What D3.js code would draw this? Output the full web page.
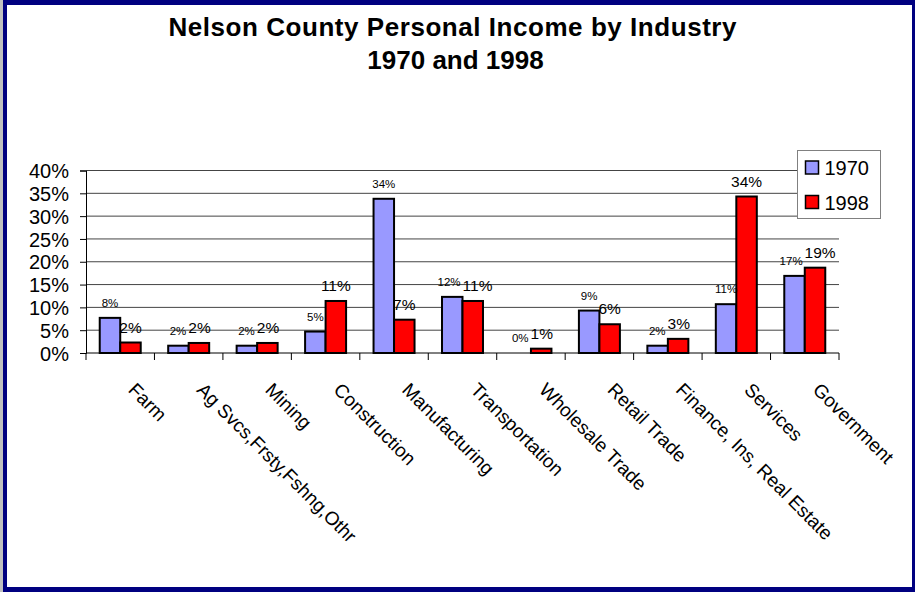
<!DOCTYPE html>
<html>
<head>
<meta charset="utf-8">
<script src="https://cdn.jsdelivr.net/npm/d3@7"></script>
<style>
  body { margin: 0; background: #fff; }
  svg { display: block; font-family: Arial, "Liberation Sans", sans-serif; }
  .title { font-weight: bold; font-size: 26px; text-anchor: middle; fill: #000; }
  .tick-label { font-size: 20px; text-anchor: end; }
  .cat-label { font-size: 19px; }
  .legend-label { font-size: 20px; }
</style>
</head>
<body>
<div class="chart"></div>
<script>
// categories along the x axis
const categories = ["Farm", "Ag Svcs,Frsty,Fshng,Othr", "Mining", "Construction", "Manufacturing",
  "Transportation", "Wholesale Trade", "Retail Trade", "Finance, Ins, Real Estate", "Services", "Government"];
const series = ["1970", "1998"];
// share of personal income, percent
const values1970 = [7.7, 1.6, 1.6, 4.7, 33.8, 12.3, 0, 9.3, 1.6, 10.7, 16.9];
const values1998 = [2.3, 2.2, 2.2, 11.4, 7.3, 11.4, 0.95, 6.3, 3.1, 34.3, 18.7];
const yTicks = [0, 5, 10, 15, 20, 25, 30, 35, 40];

const width = 915, height = 592;
const colors = { "1970": "#9999ff", "1998": "#ff0000" };

function drawChart() {
    let svg = d3.select(".chart").append("svg")
        .attr("width", width)
        .attr("height", height);

    // navy frame
    svg.append("rect").attr("x", 0).attr("y", 0).attr("width", width).attr("height", height).attr("fill", "#c0c0c0");
    svg.append("rect").attr("x", 3).attr("y", 0).attr("width", width - 3).attr("height", height).attr("fill", "#000080");
    svg.append("rect").attr("x", 7).attr("y", 5).attr("width", 905).attr("height", 582).attr("fill", "#fff");

    svg.append("text").attr("class", "title")
        .attr("x", 452.5).attr("y", 36)
        .attr("textLength", 568).attr("lengthAdjust", "spacing")
        .text("Nelson County Personal Income by Industry");
    svg.append("text").attr("class", "title")
        .attr("x", 455.5).attr("y", 68.5)
        .text("1970 and 1998");

    var x0 = d3.scaleBand().domain(categories).range([86, 839]);
    var x1 = d3.scaleBand().domain(series).range([0, x0.bandwidth()]).paddingOuter(0.67);
    var y = d3.scaleLinear().domain([0, 40]).range([353, 170.5]);

    // gridlines
    svg.append("g")
        .selectAll("line")
        .data(yTicks.filter(d => d > 0))
        .enter().append("line")
        .attr("x1", 86).attr("x2", 839)
        .attr("y1", d => y(d)).attr("y2", d => y(d))
        .attr("stroke", "#444").attr("stroke-width", 1);

    // y axis
    var yAxis = d3.axisLeft(y).tickValues(yTicks).tickSize(6).tickFormat(d => d + "%");
    var gy = svg.append("g").attr("transform", "translate(86,0)").call(yAxis);
    gy.select(".domain").attr("stroke", "#000");
    gy.selectAll(".tick line").attr("stroke", "#000");
    gy.selectAll(".tick text")
        .attr("class", "tick-label")
        .attr("x", -17).attr("dy", "0.36em")
        .attr("fill", "#000")
        .style("font-family", "Arial, 'Liberation Sans', sans-serif");

    // x axis, ticks between categories
    svg.append("line").attr("x1", 86).attr("x2", 839).attr("y1", 353).attr("y2", 353)
        .attr("stroke", "#000").attr("stroke-width", 1);
    var boundaries = categories.map(c => x0(c)).concat([x0.range()[1]]);
    svg.append("g").selectAll("line")
        .data(boundaries)
        .enter().append("line")
        .attr("x1", d => d).attr("x2", d => d)
        .attr("y1", 353).attr("y2", 360)
        .attr("stroke", "#000");

    let rows = categories.map(function(c, i) {
        return [{cat: c, s: "1970", v: values1970[i]}, {cat: c, s: "1998", v: values1998[i]}];
    });

    let groups = svg.append("g").selectAll("g")
        .data(rows)
        .enter().append("g")
        .attr("transform", d => "translate(" + x0(d[0].cat) + ",0)");

    groups.selectAll("rect")
        .data(d => d)
        .enter().append("rect")
        .attr("x", d => x1(d.s))
        .attr("width", x1.bandwidth())
        .attr("y", d => y(d.v))
        .attr("height", d => y(0) - y(d.v))
        .attr("fill", d => colors[d.s])
        .attr("stroke", "#000")
        .attr("stroke-width", 2);

    groups.selectAll("text")
        .data(d => d)
        .enter().append("text")
        .attr("x", d => x1(d.s) + x1.bandwidth() / 2)
        .attr("y", d => y(d.v) - (d.s == "1970" ? 11 : 10))
        .attr("text-anchor", "middle")
        .style("font-size", d => d.s == "1970" ? "11.5px" : "15.5px")
        .attr("fill", "#000")
        .text(d => d3.format(".0f")(d.v) + "%");

    // push the two labels of a pair apart when they collide, like excel does
    groups.each(function() {
        var t = d3.select(this).selectAll("text").nodes();
        var a = t[0], b = t[1];
        var ax = +a.getAttribute("x"), bx = +b.getAttribute("x");
        var aw = a.getComputedTextLength(), bw = b.getComputedTextLength();
        var ay = +a.getAttribute("y"), by = +b.getAttribute("y");
        if (Math.abs(ay - by) > 13) return;
        var overlap = (ax + aw / 2 + 2) - (bx - bw / 2);
        if (overlap > 0) {
            a.setAttribute("x", ax - overlap * 0.4);
            b.setAttribute("x", bx + overlap * 0.6);
        }
    });

    // rotated category labels
    svg.append("g").selectAll("text")
        .data(categories)
        .enter().append("text")
        .attr("class", "cat-label")
        .attr("transform", d => "translate(" + (x0(d) + x0.bandwidth() / 2 + 7) + ",391) rotate(45)")
        .text(d => d);

    // legend
    let legend = svg.append("g").attr("transform", "translate(797.5,150.5)");
    legend.append("rect").attr("width", 83).attr("height", 68)
        .attr("fill", "#fff").attr("stroke", "#808080");
    series.forEach(function(s, i) {
        legend.append("rect")
            .attr("x", 8).attr("y", 10.5 + i * 34.5)
            .attr("width", 13).attr("height", 13)
            .attr("fill", colors[s]).attr("stroke", "#000").attr("stroke-width", 1.5);
        legend.append("text").attr("class", "legend-label")
            .attr("x", 27).attr("y", 24.5 + i * 34.5)
            .text(s);
    });
}

drawChart();
</script>
</body>
</html>
